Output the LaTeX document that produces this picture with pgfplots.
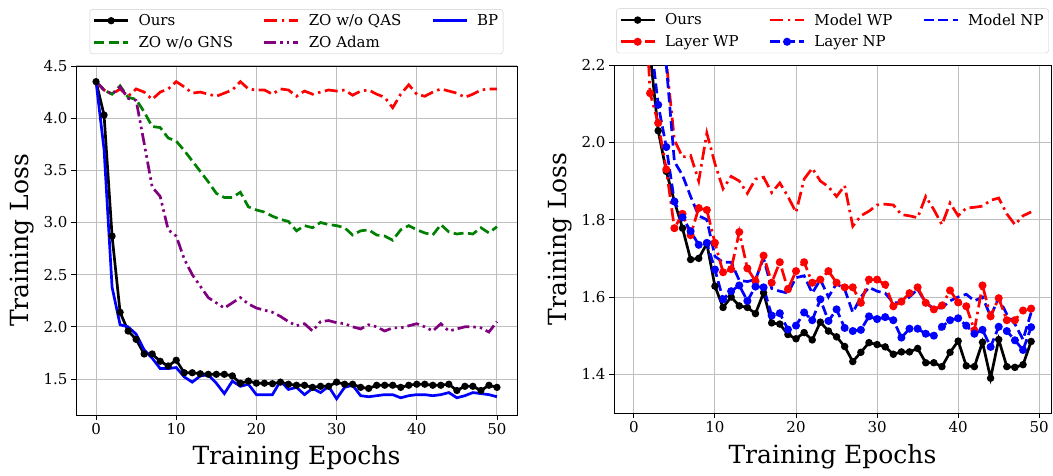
\documentclass[border=0pt]{standalone}
\usepackage{fontspec}
\setmainfont{DejaVu Serif}
\usepackage{pgfplots}
\usepackage{pgfplotstable}
\pgfplotsset{compat=1.18}

% left panel: training loss of the ablations
\pgfplotstableread{
e ours bp qas gns adam
0 4.35 4.35 4.35 4.35 4.35
1 4.03 3.70 4.27 4.27 4.27
2 2.87 2.38 4.23 4.23 4.23
3 2.14 2.02 4.28 4.31 4.30
4 1.96 2.00 4.21 4.20 4.19
5 1.88 1.93 4.28 4.18 4.17
6 1.74 1.78 4.25 4.06 3.76
7 1.74 1.70 4.18 3.92 3.34
8 1.67 1.60 4.25 3.91 3.25
9 1.625 1.60 4.28 3.81 2.93
10 1.68 1.61 4.35 3.78 2.87
11 1.56 1.52 4.30 3.69 2.65
12 1.56 1.47 4.24 3.59 2.50
13 1.55 1.53 4.25 3.49 2.39
14 1.545 1.54 4.23 3.39 2.28
15 1.545 1.46 4.21 3.28 2.23
16 1.545 1.36 4.24 3.24 2.18
17 1.53 1.48 4.27 3.24 2.23
18 1.46 1.43 4.35 3.29 2.28
19 1.48 1.45 4.28 3.15 2.22
20 1.46 1.35 4.27 3.12 2.18
21 1.46 1.35 4.27 3.10 2.16
22 1.455 1.35 4.23 3.06 2.14
23 1.47 1.48 4.28 3.03 2.10
24 1.45 1.40 4.27 3.01 2.05
25 1.44 1.42 4.21 2.92 2.01
26 1.44 1.35 4.26 2.97 2.03
27 1.42 1.41 4.23 2.95 1.96
28 1.43 1.37 4.25 3.00 2.05
29 1.43 1.43 4.27 2.98 2.06
30 1.47 1.31 4.26 2.97 2.04
31 1.45 1.42 4.27 2.95 2.03
32 1.45 1.44 4.22 2.88 2.00
33 1.42 1.34 4.26 2.92 1.98
34 1.41 1.33 4.27 2.93 2.02
35 1.44 1.34 4.23 2.88 2.00
36 1.44 1.35 4.20 2.87 1.96
37 1.44 1.35 4.10 2.83 1.99
38 1.42 1.32 4.23 2.93 1.99
39 1.44 1.34 4.32 2.97 2.01
40 1.45 1.35 4.23 2.93 2.03
41 1.45 1.35 4.21 2.90 2.00
42 1.44 1.34 4.25 2.88 1.96
43 1.44 1.35 4.28 2.98 2.03
44 1.45 1.37 4.26 2.91 1.96
45 1.39 1.32 4.24 2.89 1.98
46 1.43 1.34 4.20 2.90 2.00
47 1.43 1.37 4.23 2.89 2.00
48 1.39 1.36 4.27 2.95 1.99
49 1.44 1.35 4.28 2.90 1.95
50 1.42 1.33 4.28 2.96 2.05
}\lefttab

% right panel: pruning variants
\pgfplotstableread{
e ours mwp mnp lwp lnp
0 2.75 3.20 3.10 2.90 2.90
1 2.45 2.90 2.80 2.55 2.50
2 2.23 2.60 2.55 2.127 2.28
3 2.03 2.40 2.35 2.05 2.097
4 1.925 2.21 2.20 1.93 1.988
5 1.847 2.006 1.95 1.778 1.847
6 1.778 1.962 1.915 1.815 1.806
7 1.697 1.966 1.86 1.76 1.77
8 1.70 1.90 1.81 1.83 1.735
9 1.738 2.024 1.80 1.825 1.74
10 1.628 1.945 1.705 1.74 1.671
11 1.573 1.88 1.69 1.664 1.594
12 1.60 1.912 1.69 1.672 1.615
13 1.577 1.90 1.643 1.768 1.63
14 1.573 1.868 1.64 1.674 1.59
15 1.557 1.905 1.645 1.641 1.627
16 1.611 1.91 1.70 1.707 1.625
17 1.533 1.87 1.622 1.637 1.552
18 1.53 1.895 1.615 1.69 1.558
19 1.503 1.86 1.61 1.62 1.516
20 1.492 1.819 1.65 1.667 1.526
21 1.508 1.905 1.655 1.69 1.56
22 1.489 1.933 1.61 1.637 1.54
23 1.535 1.90 1.645 1.645 1.594
24 1.512 1.885 1.60 1.667 1.538
25 1.497 1.86 1.635 1.637 1.568
26 1.472 1.888 1.62 1.625 1.52
27 1.433 1.783 1.56 1.625 1.512
28 1.457 1.81 1.60 1.585 1.515
29 1.482 1.822 1.625 1.645 1.55
30 1.477 1.838 1.615 1.645 1.543
31 1.471 1.84 1.61 1.632 1.548
32 1.452 1.838 1.585 1.576 1.54
33 1.458 1.813 1.585 1.588 1.495
34 1.458 1.81 1.60 1.61 1.518
35 1.467 1.805 1.62 1.625 1.518
36 1.43 1.86 1.585 1.585 1.505
37 1.43 1.826 1.57 1.568 1.50
38 1.42 1.787 1.572 1.578 1.523
39 1.457 1.843 1.59 1.617 1.54
40 1.486 1.81 1.60 1.586 1.545
41 1.422 1.83 1.607 1.576 1.526
42 1.42 1.832 1.59 1.514 1.505
43 1.483 1.835 1.60 1.63 1.515
44 1.39 1.85 1.55 1.55 1.471
45 1.49 1.856 1.598 1.597 1.523
46 1.42 1.815 1.555 1.54 1.512
47 1.418 1.787 1.53 1.54 1.488
48 1.425 1.81 1.49 1.565 1.463
49 1.485 1.82 1.56 1.57 1.522
}\righttab

\definecolor{mplgreen}{RGB}{0,128,0}
\definecolor{mplpurple}{RGB}{128,0,128}
\definecolor{gridgray}{RGB}{190,190,190}

\pgfplotsset{
  lossaxis/.style={
    scale only axis,
    grid=major,
    grid style={gridgray, line width=1pt},
    axis line style={black, line width=0.9pt},
    tick align=outside,
    xtick pos=left, ytick pos=left,
    major tick length=5pt,
    tick style={black, line width=0.9pt},
    tick label style={font=\fontsize{15}{18}\selectfont},
    /pgf/number format/assume math mode=true,
    xtick={0,10,20,30,40,50},
    y tick label style={/pgf/number format/.cd, fixed, fixed zerofill, precision=1},
    xlabel={Training Epochs},
    ylabel={Training Loss},
    label style={font=\fontsize{25}{30}\selectfont},
    legend columns=3,
    legend cell align=left,
    legend style={at={(0.5,1.034)}, anchor=south, draw=black!20, rounded corners=3pt,
      font=\fontsize{15}{18}\selectfont, row sep=5pt, inner xsep=3pt, inner ysep=3pt,
      /tikz/every odd column/.append style={column sep=7pt},
      /tikz/every even column/.append style={column sep=28pt}},
    legend image code/.code={
      \draw[mark repeat=2, mark phase=2, #1] plot coordinates {(0pt,0pt) (17pt,0pt) (34pt,0pt)};},
    every axis plot/.append style={line width=2.7pt, mark options={solid}, mark size=2.4pt},
  },
  dsh/.style={dash pattern=on 10pt off 4.5pt},
  dshdot/.style={dash pattern=on 13pt off 4.5pt on 2.5pt off 4.5pt},
  dshdotdot/.style={dash pattern=on 12pt off 4pt on 2.5pt off 4pt on 2.5pt off 4pt},
}

\begin{document}
\begin{tikzpicture}
\useasboundingbox (0,0) rectangle (1053pt,475pt);

\begin{axis}[lossaxis,
  at={(76pt,60pt)}, anchor=south west,
  width=441pt, height=349pt,
  xmin=-2.5, xmax=52.5, ymin=1.155, ymax=4.5,
  ytick={1.5,2.0,2.5,3.0,3.5,4.0,4.5},
  xlabel style={at={(axis description cs:0.5,-0.123)}, anchor=center},
  ylabel style={at={(axis description cs:-0.122,0.5)}, anchor=center},
]
\addplot[black, mark=*, mark size=2.2pt] table[x=e, y=ours] {\lefttab};
\addlegendentry{Ours}
\addplot[red, dshdot] table[x=e, y=qas] {\lefttab};
\addlegendentry{ZO w/o QAS}
\addplot[blue] table[x=e, y=bp] {\lefttab};
\addlegendentry{BP}
\addplot[mplgreen, dsh] table[x=e, y=gns] {\lefttab};
\addlegendentry{ZO w/o GNS}
\addplot[mplpurple, dshdotdot] table[x=e, y=adam] {\lefttab};
\addlegendentry{ZO Adam}
\end{axis}

\begin{axis}[lossaxis,
  at={(614pt,62pt)}, anchor=south west,
  width=437pt, height=348pt,
  xmin=-2.45, xmax=51.45, ymin=1.3, ymax=2.2,
  ytick={1.4,1.6,1.8,2.0,2.2},
  xlabel style={at={(axis description cs:0.5,-0.125)}, anchor=center},
  ylabel style={at={(axis description cs:-0.124,0.5)}, anchor=center},
]
\addplot[black, mark=*, mark size=2.3pt] table[x=e, y=ours] {\righttab};
\addlegendentry{Ours}
\addplot[red, dshdot] table[x=e, y=mwp] {\righttab};
\addlegendentry{Model WP}
\addplot[blue, dsh] table[x=e, y=mnp] {\righttab};
\addlegendentry{Model NP}
\addplot[red, dshdot, mark=*, mark size=2.6pt] table[x=e, y=lwp] {\righttab};
\addlegendentry{Layer WP}
\addplot[blue, dsh, mark=*, mark size=2.6pt] table[x=e, y=lnp] {\righttab};
\addlegendentry{Layer NP}
\end{axis}
\end{tikzpicture}
\end{document}
